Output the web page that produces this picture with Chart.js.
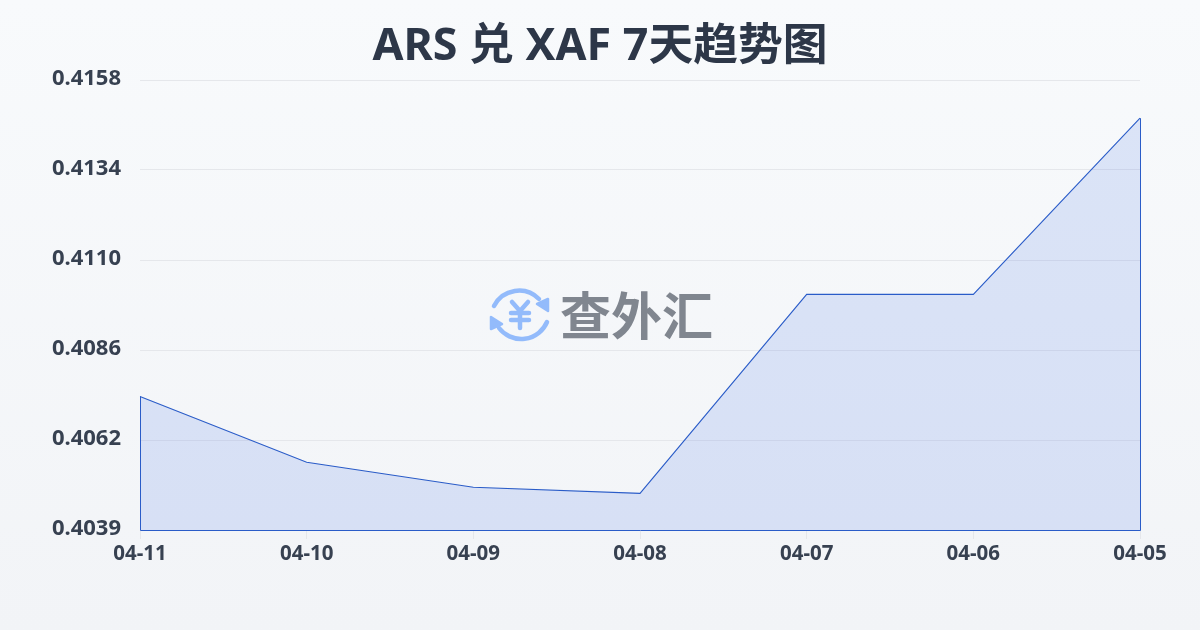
<!DOCTYPE html>
<html>
<head>
<meta charset="utf-8">
<style>
html, body { margin: 0; padding: 0; }
body { width: 1200px; height: 630px; overflow: hidden; position: relative; background: linear-gradient(180deg, #f8fafc 0%, #f2f4f7 100%); }
#chart { position: absolute; left: 0; top: 0; }
#mark { position: absolute; left: 470px; top: 270px; width: 260px; height: 90px; }
#mark span { position: absolute; left: 90px; top: 8px; font: 700 51px/70px "Noto Sans CJK SC", sans-serif; color: #80868f; white-space: nowrap; }
</style>
<script src="https://cdn.jsdelivr.net/npm/chart.js@4"></script>
</head>
<body>
<canvas id="chart" width="1200" height="630"></canvas>
<div id="mark">
  <svg width="260" height="90" viewBox="0 0 260 90" fill="none" stroke="#93bbfb" stroke-width="4.5" stroke-linecap="round" stroke-linejoin="round">
    <path d="M24 36 A28 28 0 0 1 69 29"/>
    <path d="M77 52 A28 28 0 0 1 29 58"/>
    <path d="M78 29 L78 41 L67 34 Z" fill="#93bbfb" stroke-width="2.5"/>
    <path d="M21 47 L21 59 L32 54 Z" fill="#93bbfb" stroke-width="2.5"/>
    <path d="M42 32 L50 41 L58 32 M41 43 H59 M41 50 H59 M50 41 V58"/>
  </svg>
  <span>查外汇</span>
</div>
<script>
'use strict';

const categories = ['04-11', '04-10', '04-09', '04-08', '04-07', '04-06', '04-05'];
const rates = [0.40739, 0.40565, 0.40499, 0.40483, 0.41009, 0.41009, 0.41475];
const yTicks = [0.40386, 0.40624, 0.40862, 0.41100, 0.41338, 0.41576];

const fontFamily = '"Noto Sans", "Noto Sans CJK SC", sans-serif';
const textColor = '#374151';
const lineColor = '#2a5cc8';

// the reference strokes the whole filled shape, so close it down to the axis
const closeArea = {
    id: 'closeArea',
    afterDatasetsDraw(chart) {
        const pts = chart.getDatasetMeta(0).data;
        const bottom = Math.round(chart.scales.y.bottom) + 0.5;
        const left = Math.round(pts[0].x) + 0.5;
        const right = Math.round(pts[pts.length - 1].x) + 0.5;
        const ctx = chart.ctx;
        ctx.save();
        ctx.strokeStyle = lineColor;
        ctx.lineWidth = 1;
        ctx.beginPath();
        ctx.moveTo(left, pts[0].y);
        ctx.lineTo(left, bottom);
        ctx.lineTo(right, bottom);
        ctx.lineTo(right, pts[pts.length - 1].y);
        ctx.stroke();
        ctx.restore();
    }
};

new Chart(document.getElementById('chart'), {
    type: 'line',
    plugins: [closeArea],
    data: {
        labels: categories,
        datasets: [{
            data: rates,
            borderColor: lineColor,
            borderWidth: 1.1,
            backgroundColor: 'rgba(59, 110, 225, 0.15)',
            fill: 'start',
            tension: 0,
            pointRadius: 0
        }]
    },
    options: {
        responsive: false,
        animation: false,
        plugins: {
            legend: { display: false },
            tooltip: { enabled: false },
            title: {
                display: true,
                text: 'ARS 兑 XAF 7天趋势图',
                color: '#2d3748',
                font: { family: fontFamily, size: 44.8, weight: '700', lineHeight: '54px' },
                padding: { top: 20, bottom: 6 }
            }
        },
        scales: {
            x: {
                offset: false,
                grid: { drawOnChartArea: false, drawTicks: true, tickLength: 9, color: '#e5e7eb' },
                border: { display: false },
                ticks: {
                    color: textColor,
                    font: { family: fontFamily, size: 20.5, weight: '700' },
                    maxRotation: 0,
                    autoSkip: false,
                    padding: 3
                },
                afterFit(scale) { scale.height = 100; }
            },
            y: {
                min: yTicks[0],
                max: yTicks[yTicks.length - 1],
                grid: { color: '#e5e7eb', drawTicks: false },
                border: { display: false },
                afterBuildTicks(scale) { scale.ticks = yTicks.map(v => ({ value: v })); },
                ticks: {
                    color: textColor,
                    font: { family: fontFamily, size: 22, weight: '700', lineHeight: '2px' },
                    padding: 19,
                    // empty second line nudges the label up 1px, as in the reference
                    callback: v => [v.toFixed(4), '']
                },
                afterFit(scale) { scale.width = 140; }
            },
            // empty axis, only keeps the 60px gap on the right so the title stays centred
            gap: {
                position: 'right',
                display: true,
                grid: { display: false },
                border: { display: false },
                ticks: { display: false },
                afterFit(scale) { scale.width = 60; }
            }
        }
    }
});
</script>
</body>
</html>
